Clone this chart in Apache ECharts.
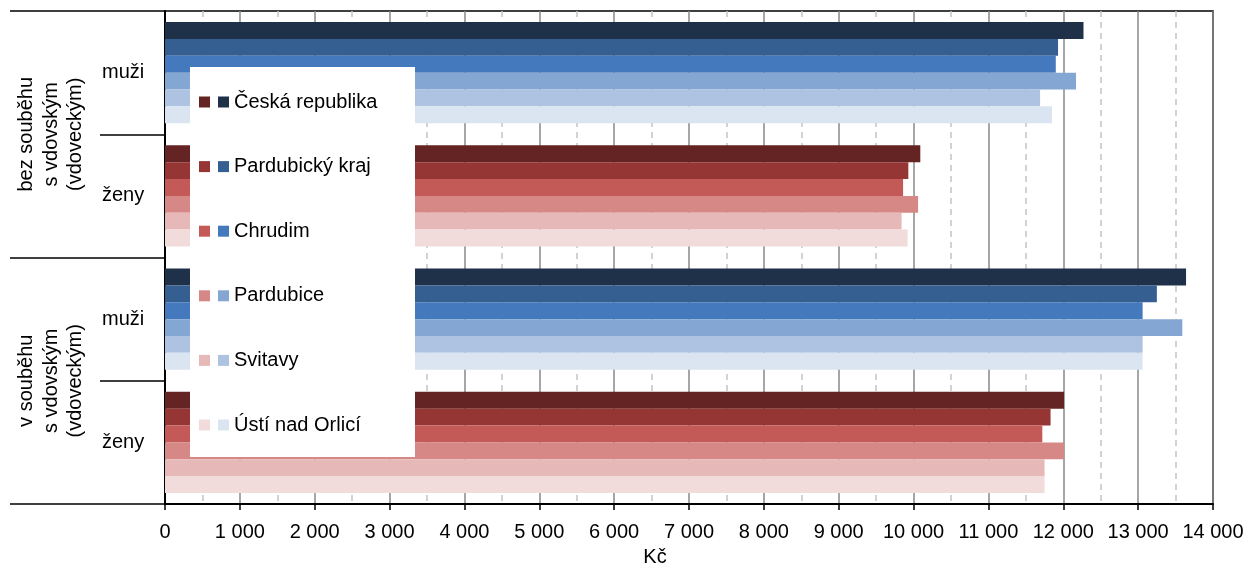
<!DOCTYPE html>
<html>
<head>
<meta charset="utf-8">
<script src="https://cdn.jsdelivr.net/npm/echarts@6/dist/echarts.min.js"></script>
<style>
html,body{margin:0;padding:0;background:#fff;}
#chart{width:1247px;height:565px;}
</style>
</head>
<body>
<div id="chart"></div>
<script>
// ---- data ----
var categories = ['muži', 'ženy', 'muži', 'ženy'];
var groups = ['bez souběhu\ns vdovským\n(vdoveckým)', 'v souběhu\ns vdovským\n(vdoveckým)'];
var regions = ['Česká republika', 'Pardubický kraj', 'Chrudim', 'Pardubice', 'Svitavy', 'Ústí nad Orlicí'];
// values per region
var bezMuzi = [12270, 11930, 11900, 12170, 11690, 11850];
var bezZeny = [10090, 9930, 9860, 10060, 9840, 9920];
var vMuzi   = [13640, 13250, 13060, 13590, 13060, 13060];
var vZeny   = [12010, 11830, 11720, 12010, 11750, 11750];
var xTicks = [0, 1000, 2000, 3000, 4000, 5000, 6000, 7000, 8000, 9000, 10000, 11000, 12000, 13000, 14000];

var blueColors = ['#1F3049', '#355F91', '#4579BD', '#83A7D2', '#ADC3E1', '#DBE5F1'];
var redColors  = ['#632423', '#963634', '#C45A57', '#D68886', '#E6B9B8', '#F2DCDB'];

var FONT = 'Liberation Sans, Arial, sans-serif';
var FS = 20;

var series = [];
var redNames = [];
regions.forEach(function (r, i) {
  series.push({
    name: r, type: 'bar', stack: 's' + i,
    data: [bezMuzi[i], null, vMuzi[i], null],
    itemStyle: { color: blueColors[i] },
    barCategoryGap: '18%', barGap: '0%'
  });
  var rn = r + ' (ženy)';
  redNames.push(rn);
  series.push({
    name: rn, type: 'bar', stack: 's' + i,
    data: [null, bezZeny[i], null, vZeny[i]],
    itemStyle: { color: redColors[i] },
    barCategoryGap: '18%', barGap: '0%'
  });
});

var chart = echarts.init(document.getElementById('chart'));
chart.setOption({
  animation: false,
  backgroundColor: '#fff',
  textStyle: { fontFamily: FONT },
  grid: { left: 165, right: 34, top: 11, bottom: 61, containLabel: false, outerBoundsMode: 'none', show: true, borderColor: '#000', borderWidth: 1.5, backgroundColor: 'transparent' },
  xAxis: {
    type: 'value', min: xTicks[0], max: xTicks[xTicks.length - 1], interval: 1000,
    name: 'Kč', nameLocation: 'middle', nameGap: 43,
    nameTextStyle: { fontSize: FS, color: '#000', fontFamily: FONT, padding: [0, 68, 0, 0] },
    axisLine: { show: true, lineStyle: { color: '#000', width: 2 } },
    axisTick: { show: true, length: 6, lineStyle: { color: '#000', width: 1.5 } },
    axisLabel: {
      fontSize: FS, color: '#000', fontFamily: FONT, margin: 18,
      formatter: function (v) { return String(v).replace(/\B(?=(\d{3})+(?!\d))/g, ' '); }
    },
    splitLine: { show: true, lineStyle: { color: '#888', width: 1.5 } },
    minorTick: { show: false, splitNumber: 2 },
    minorSplitLine: { show: true, lineStyle: { color: '#c4c4c4', width: 1.5, type: [6, 5] } }
  },
  yAxis: [
    {
      type: 'category', data: categories, inverse: true, position: 'left',
      axisLine: { show: true, lineStyle: { color: '#000', width: 2 } },
      axisTick: { show: true, length: 65, lineStyle: { color: '#000', width: 1.5 } },
      axisLabel: { fontSize: FS, color: '#000', fontFamily: FONT, align: 'left', margin: 63 },
      splitLine: { show: false }
    },
    {
      type: 'category', data: groups, inverse: true, position: 'left',
      axisLine: { show: false },
      axisTick: { show: true, length: 155, lineStyle: { color: '#000', width: 1.5 } },
      axisLabel: { fontSize: FS, color: '#000', fontFamily: FONT, rotate: 90, margin: 77, lineHeight: 24.5, align: 'center' },
      splitLine: { show: false }
    }
  ],
  graphic: [
    { type: 'rect', z: 5, shape: { x: 190, y: 67, width: 225, height: 390 }, style: { fill: '#fff' } }
  ],
  legend: [
    {
      z: 10, orient: 'vertical', left: 199, top: 92, padding: 0,
      itemWidth: 11, itemHeight: 11, itemGap: 44.6, icon: 'rect',
      data: redNames,
      formatter: function () { return ' '; },
      textStyle: { fontSize: FS, lineHeight: 20, color: '#000', fontFamily: FONT }
    },
    {
      z: 10, orient: 'vertical', left: 218, top: 92, padding: 0,
      itemWidth: 11, itemHeight: 11, itemGap: 44.6, icon: 'rect',
      data: regions,
      textStyle: { fontSize: FS, lineHeight: 20, color: '#000', fontFamily: FONT }
    }
  ],
  series: series
});
</script>
</body>
</html>
